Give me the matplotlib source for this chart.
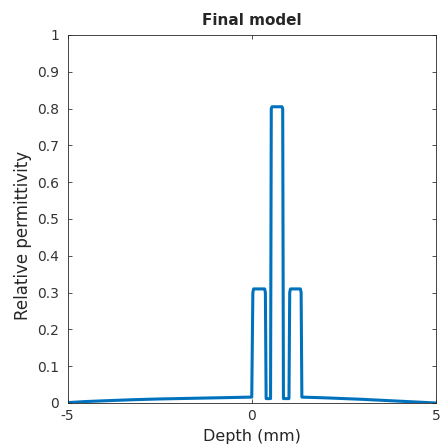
import numpy as np
import matplotlib
matplotlib.use('Agg')
import matplotlib.pyplot as plt

# Final model profile
depth = [-5.0, -4.5, -4.0, -3.2, -2.5, -1.5, -0.5, 0.0,
         0.03, 0.05, 0.35, 0.37, 0.39, 0.51,
         0.53, 0.55, 0.82, 0.84, 0.86, 1.01,
         1.03, 1.05, 1.32, 1.34, 1.36, 2.0, 3.0, 4.0, 4.6, 5.0]
perm = [0.001, 0.004, 0.006, 0.009, 0.011, 0.013, 0.015, 0.016,
        0.30, 0.31, 0.31, 0.30, 0.012, 0.012,
        0.80, 0.805, 0.805, 0.80, 0.012, 0.012,
        0.30, 0.31, 0.31, 0.30, 0.016, 0.014, 0.010, 0.005, 0.002, 0.0]

xticks = [-5, 0, 5]
yticks = np.round(np.arange(0, 1.01, 0.1), 1)
ylabels = ['0' if v == 0 else ('1' if v == 1 else f'{v:.1f}') for v in yticks]

plt.rcParams['font.family'] = 'DejaVu Sans'
fig = plt.figure(figsize=(4.45, 4.46), dpi=100)
ax = fig.add_axes([67.5 / 445, 43 / 446, 368.5 / 445, 368 / 446])

ax.plot(depth, perm, color='#0072BD', linewidth=2.2)

ax.set_xlim(-5, 5)
ax.set_ylim(0, 1)
ax.set_xticks(xticks)
ax.set_xticklabels([str(v) for v in xticks])
ax.set_yticks(yticks)
ax.set_yticklabels(ylabels)

for s in ax.spines.values():
    s.set_color('#262626')
    s.set_linewidth(0.6)
ax.tick_params(direction='in', length=3, width=0.6, colors='#333333',
               labelsize=10, top=True, right=True)
ax.tick_params(axis='y', pad=6)
ax.tick_params(axis='x', pad=4)

ax.set_xlabel('Depth (mm)', fontsize=11.5, color='#262626', labelpad=5)
ax.set_ylabel('Relative permittivity', fontsize=12, color='#262626')
ax.yaxis.set_label_coords(-0.097, 0.454)
ax.set_title('Final model', fontsize=11, fontweight='bold', color='#262626', pad=7)

fig.savefig('out.png', dpi=100)
